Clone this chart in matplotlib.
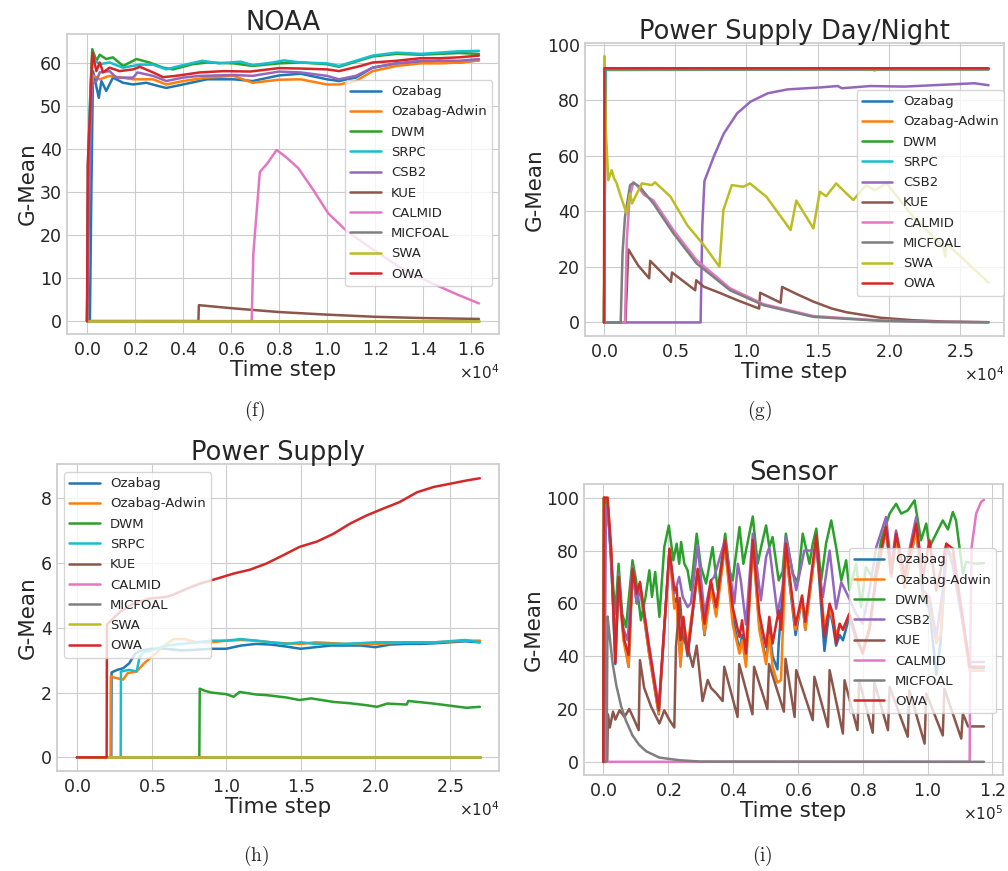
import numpy as np
import matplotlib
matplotlib.use('Agg')
import matplotlib.pyplot as plt
import seaborn as sns

# ---------------- data (time step, G-Mean) ----------------

# (f) NOAA
noaa_ozabag = [(0, 0), (120, 0), (180, 30), (250, 58), (490, 51.8), (600, 55.7), (800, 53.4), (1080, 56.5),
               (1500, 55.3), (1920, 54.9), (2470, 55.3), (3000, 54.5), (3300, 54.1), (4000, 54.9), (5000, 56.1),
               (6100, 56.1), (6900, 55.7), (8000, 57), (8900, 57.4), (10000, 56.1), (10500, 55.7), (11200, 56.5),
               (11900, 58.8), (12900, 59.8), (13900, 60), (14700, 60.4), (15500, 60), (16330, 60.5)]
noaa_adwin = [(0, 0), (60, 37), (150, 50), (250, 57), (530, 56.1), (940, 56.9), (1920, 56.1), (2750, 56.1),
              (3300, 54.9), (4000, 55.7), (5000, 56.5), (6100, 56.9), (6900, 55.3), (8000, 56), (8900, 56.1),
              (10000, 54.9), (10500, 54.9), (11200, 55.7), (11900, 58), (12900, 59.2), (13900, 59.8),
              (14700, 59.8), (15500, 60), (16330, 60.5)]
noaa_dwm = [(0, 0), (60, 37), (150, 55), (220, 63.1), (390, 60.4), (530, 61.8), (800, 60.8), (1080, 61.2),
            (1500, 59.2), (2060, 60.8), (2600, 60), (3170, 58.8), (3580, 58.4), (4400, 59.6), (5000, 60),
            (6100, 59.8), (6900, 59.2), (8000, 59.8), (8900, 60), (10000, 59.6), (10500, 59), (11200, 60.2),
            (11900, 61.4), (12900, 62), (13900, 61.8), (14700, 62), (15500, 62.2), (16330, 62)]
noaa_srpc = [(0, 0), (40, 37), (150, 55), (250, 60.8), (530, 59.6), (940, 60), (1500, 58.8), (2200, 59.5),
             (2750, 59.5), (3300, 58.4), (3700, 59), (4800, 60.4), (5500, 59.8), (6400, 60.2), (6900, 59.4),
             (7750, 60), (8200, 60.5), (8900, 60), (10000, 59.8), (10500, 59.2), (11200, 60.4), (11900, 61.6),
             (12900, 62.3), (13900, 62), (14700, 62.3), (15500, 62.6), (16330, 62.7)]
noaa_csb2 = [(0, 0), (80, 25), (200, 55), (390, 55.7), (530, 57.7), (940, 58), (1220, 56.5), (1920, 56.5),
             (2100, 57.7), (2750, 56.9), (3300, 55.7), (4000, 56.5), (4700, 56.9), (6100, 57.1), (6900, 56.9),
             (8000, 57.9), (8900, 57.7), (10000, 56.9), (10500, 56.1), (11200, 56.9), (11900, 58.8),
             (12900, 59.8), (13900, 60.4), (14700, 60.4), (15500, 60.4), (16330, 60.8)]
noaa_kue = [(0, 0), (4640, 0), (4660, 3.7), (6000, 3.0), (8000, 2.1), (10000, 1.5), (12000, 1.0),
            (14000, 0.7), (16330, 0.5)]
noaa_calmid = [(0, 0), (6860, 0), (6930, 15.7), (7200, 34.6), (7500, 36.5), (7900, 39.7), (8300, 38),
               (8800, 35.5), (9430, 30.4), (10050, 25), (10800, 21), (11650, 17.6), (13000, 12.6),
               (14400, 8.7), (15500, 6), (16330, 4.1)]
noaa_micfoal = [(0, 0), (16330, 0)]
noaa_swa = [(0, 0), (16330, 0)]
noaa_owa = [(0, 0), (30, 36), (150, 52), (220, 62.3), (390, 58), (530, 60), (670, 57.7), (940, 58.8),
            (1360, 58), (1920, 58.4), (2200, 59), (2750, 57.7), (3170, 56.6), (3700, 56.9), (4700, 57.7),
            (5700, 58), (6800, 57.9), (8000, 58.7), (8900, 58.6), (10000, 58.4), (10500, 58), (11400, 59.2),
            (11900, 60), (12900, 60.4), (13900, 61), (14700, 61), (15500, 61.2), (16330, 61.6)]

# (g) Power Supply Day/Night
psdn_ozabag = [(0, 0), (100, 91), (27000, 91.2)]
psdn_adwin = [(0, 0), (100, 91.2), (18800, 91.2), (19000, 90.8), (19200, 91.2), (27000, 91.2)]
psdn_dwm = [(0, 0), (100, 91.4), (27000, 91.4)]
psdn_srpc = [(0, 0), (100, 91.3), (27000, 91.3)]
psdn_csb2 = [(0, 0), (6780, 0), (6900, 35), (7050, 51), (7700, 59.7), (8400, 68), (9350, 75.4),
             (10300, 79.6), (11500, 82.6), (12900, 84), (15200, 84.7), (16400, 85.2), (16700, 84.4),
             (18700, 85.2), (21100, 85), (26000, 86.2), (27000, 85.5)]
psdn_kue = [(0, 0), (1500, 0), (1710, 26.3), (2400, 20.5), (3170, 15.9), (3240, 22.2), (4700, 14.6),
            (4770, 18.0), (6400, 11.6), (6470, 15.2), (7000, 12.9), (8200, 10.5), (9360, 8.0), (10890, 5.0),
            (10960, 10.7), (12400, 7.1), (12500, 12.8), (13500, 10.3), (14700, 7.5), (16000, 5),
            (17000, 3.7), (19400, 1.7), (21700, 0.8), (24000, 0.3), (27000, 0.1)]
psdn_calmid = [(0, 0), (1470, 0), (1600, 30), (1800, 45), (2060, 50.5), (2300, 49.5), (2800, 46),
               (3460, 44), (4870, 33.3), (6490, 22.5), (8850, 12.3), (11200, 6.6), (14700, 2.3),
               (19400, 0.7), (23000, 0.2), (27000, 0.05)]
psdn_micfoal = [(0, 0), (1170, 0), (1300, 25), (1470, 38), (1830, 49.5), (2060, 50.3), (2500, 48.9),
                (3460, 42.9), (4870, 32.1), (6490, 21.3), (8850, 11.6), (11200, 6.2), (14700, 2.0),
                (19400, 0.6), (23000, 0.2), (27000, 0.05)]
psdn_swa = [(0, 0), (30, 96), (120, 70), (300, 51.3), (540, 54.9), (700, 52), (890, 50.1), (1200, 45),
            (1590, 39.3), (1830, 46.5), (1970, 42.9), (2650, 50.1), (3350, 49.5), (3580, 50.5), (4670, 45.3),
            (5850, 35), (7000, 27.9), (8100, 20.1), (8380, 40.5), (8970, 49.5), (9780, 48.9), (10250, 50.1),
            (11400, 45.3), (13100, 33.3), (13500, 43.9), (14700, 33.9), (15150, 47.1), (15600, 45.5),
            (16300, 50.1), (17500, 44.1), (18400, 49.5), (19000, 47.7), (19850, 50.1), (21700, 38.1),
            (23800, 27.3), (23970, 23.7), (24050, 28.5), (27000, 14.3)]
psdn_owa = [(0, 0), (30, 91.6), (27000, 91.6)]

# (h) Power Supply
ps_ozabag = [(0, 0), (2300, 0), (2320, 2.62), (2700, 2.7), (3100, 2.75), (3500, 2.9), (3900, 3.2),
             (4300, 3.3), (5000, 3.35), (6000, 3.35), (7000, 3.3), (8000, 3.32), (9000, 3.35), (10000, 3.35),
             (11000, 3.45), (12000, 3.5), (13000, 3.48), (14000, 3.42), (15000, 3.35), (16000, 3.4),
             (17000, 3.45), (18000, 3.45), (19000, 3.45), (20000, 3.4), (21000, 3.48), (22000, 3.5),
             (23000, 3.5), (24000, 3.52), (25000, 3.55), (26000, 3.58), (27000, 3.55)]
ps_adwin = [(0, 0), (2250, 0), (2270, 2.5), (2600, 2.45), (3100, 2.4), (3400, 2.6), (4000, 2.65),
            (4500, 2.9), (5000, 3.1), (5500, 3.3), (6000, 3.5), (6500, 3.65), (7200, 3.65), (8000, 3.55),
            (9000, 3.55), (10000, 3.6), (11000, 3.62), (12000, 3.6), (13000, 3.55), (14000, 3.52),
            (15000, 3.5), (16000, 3.55), (18000, 3.5), (20000, 3.5), (22000, 3.55), (24000, 3.55),
            (26000, 3.6), (27000, 3.6)]
ps_dwm = [(0, 0), (8200, 0), (8230, 2.12), (8600, 2.05), (9000, 2.0), (10000, 1.95), (10500, 1.87),
          (10900, 2.02), (12000, 1.94), (12700, 1.92), (14000, 1.85), (14900, 1.77), (15700, 1.82),
          (17200, 1.71), (18300, 1.67), (19400, 1.61), (20100, 1.56), (20800, 1.66), (22100, 1.63),
          (22200, 1.74), (23900, 1.66), (26100, 1.53), (27000, 1.56)]
ps_srpc = [(0, 0), (2930, 0), (2950, 2.65), (3500, 2.7), (4000, 2.65), (4200, 3.1), (4500, 3.25),
           (5000, 3.3), (6000, 3.45), (7000, 3.5), (8000, 3.55), (9000, 3.6), (10000, 3.6), (11000, 3.65),
           (12000, 3.6), (13000, 3.55), (14000, 3.5), (15000, 3.55), (16000, 3.5), (18000, 3.5),
           (20000, 3.55), (22000, 3.55), (24000, 3.55), (26000, 3.62), (27000, 3.55)]
ps_kue = [(0, 0), (27000, 0)]
ps_calmid = [(0, 0), (27000, 0)]
ps_micfoal = [(0, 0), (27000, 0)]
ps_swa = [(0, 0), (27000, 0)]
ps_owa = [(0, 0), (1990, 0), (2010, 4.1), (2880, 4.49), (3780, 4.74), (4900, 4.9), (6000, 4.95),
          (6460, 5.02), (7350, 5.2), (8240, 5.36), (9360, 5.51), (10500, 5.67), (11600, 5.79),
          (12700, 5.98), (13800, 6.23), (14900, 6.49), (16100, 6.66), (17200, 6.9), (18300, 7.21),
          (19400, 7.46), (20500, 7.67), (21600, 7.87), (22800, 8.18), (23900, 8.34), (25000, 8.44),
          (26100, 8.54), (27000, 8.61)]

# (i) Sensor
sen_ozabag = [(0, 0), (300, 100), (1300, 98), (2400, 78), (3700, 37), (4700, 68), (6200, 48), (7800, 36),
              (9000, 72), (10300, 60), (11300, 66), (14000, 42), (17100, 18), (20400, 80), (21900, 60),
              (22600, 62), (23800, 38), (24700, 50), (26000, 40), (29100, 72), (31200, 48), (33200, 66),
              (34800, 56), (37500, 82), (39900, 55), (42000, 42), (42800, 48), (44000, 38), (46100, 83),
              (48100, 52), (50200, 38), (51200, 50), (52200, 40), (53700, 35), (54100, 45), (56300, 80),
              (59300, 48), (61300, 62), (62300, 50), (65700, 84), (68200, 42), (69800, 58), (70800, 52),
              (71800, 44), (72900, 48), (73900, 46), (75900, 55), (78000, 46), (80000, 42), (82100, 50),
              (84200, 70), (87200, 88), (88800, 70), (90300, 85), (92900, 66), (96500, 88), (98600, 62),
              (100600, 58), (102700, 33), (104000, 45), (105800, 80), (107800, 78), (113000, 35.5),
              (117400, 35.5)]
sen_adwin = [(0, 0), (100, 100), (1300, 100), (2400, 80), (3700, 40), (4700, 69), (6200, 46), (7800, 36),
             (9000, 72), (10300, 62), (11300, 67), (14000, 42), (17100, 18.3), (20400, 80), (21900, 58),
             (22600, 60), (23800, 36), (24700, 52), (26000, 44), (29100, 72), (31200, 48.5), (33200, 66),
             (34800, 55), (37500, 82), (39900, 52), (42000, 41), (42800, 46), (44000, 36), (46100, 83),
             (48100, 50), (50200, 37), (51200, 48), (52200, 36), (53700, 30), (54800, 31), (56300, 80),
             (59300, 50), (61300, 62), (62300, 50), (65700, 84), (68200, 51), (69800, 58), (70800, 54),
             (71800, 48), (72900, 52), (73900, 50), (75900, 56), (78000, 47), (80000, 42), (82100, 50),
             (84200, 70), (87200, 88), (88800, 70), (90300, 85), (92900, 66), (96500, 88), (98600, 64),
             (100600, 60), (102700, 45), (104000, 48), (105800, 80), (107800, 78), (113000, 34.5),
             (117400, 34.5)]
sen_dwm = [(0, 0), (200, 100), (1300, 97), (2900, 68.7), (3700, 56), (4700, 75), (5800, 56.1), (7000, 51),
           (9000, 76.3), (10100, 68.7), (11600, 53.6), (13000, 62.4), (14200, 72.5), (15000, 62.4),
           (16000, 71.9), (17300, 54.9), (18800, 81.3), (20200, 89.5), (21600, 76.3), (22600, 82.6),
           (23400, 75), (24000, 83.2), (25000, 75), (26000, 72.5), (27000, 65), (28800, 86.4), (30100, 73.8),
           (31700, 67.5), (33700, 81.3), (35300, 65), (37600, 86.4), (38900, 72.5), (39900, 68.7),
           (42000, 88.9), (43200, 75), (46100, 92.9), (47600, 75), (48900, 82.6), (50200, 89.5),
           (51200, 81.3), (52200, 85.1), (54100, 68.7), (55300, 72), (56300, 86.4), (58400, 71.2),
           (60000, 68), (61500, 86.4), (63600, 75), (64600, 82.6), (65700, 88.3), (67200, 68.7),
           (68700, 82.6), (70300, 91.4), (71800, 81.3), (73400, 68.7), (74900, 76.3), (75900, 65),
           (78000, 75), (79500, 58.6), (81000, 73.8), (83600, 68.7), (85700, 83.9), (88300, 94),
           (90300, 97.7), (91900, 94), (93900, 95.2), (96000, 99), (98000, 83.9), (99600, 90.2),
           (100600, 81.3), (104700, 91.4), (106300, 88), (107800, 94.6), (108800, 91.4), (110900, 71.2),
           (111900, 75.7), (115000, 75), (117400, 75.3)]
sen_csb2 = [(0, 0), (300, 0), (800, 96.5), (1400, 96.6), (2400, 75), (3700, 43.5), (4700, 71.2), (6000, 51),
            (7500, 46), (9000, 73.8), (10300, 60), (11300, 67.5), (14000, 45), (17100, 20.8), (20400, 79.4),
            (21900, 63.7), (23400, 70), (24500, 62.4), (26000, 58.6), (27000, 60), (29100, 82),
            (31200, 56.1), (33200, 68.7), (34200, 70), (37500, 83.9), (40400, 60), (41500, 75),
            (42400, 68.7), (44000, 52), (46100, 86.4), (48600, 61.2), (50200, 77.6), (51200, 81.3),
            (52200, 71.2), (53700, 56.1), (55300, 66), (56300, 85.1), (59500, 65), (62000, 80),
            (65700, 80), (67700, 62.4), (69800, 80), (71800, 58), (73400, 68), (75400, 63), (78000, 56),
            (80000, 52.3), (82100, 65), (84200, 81.3), (87200, 92.7), (88800, 73.8), (90300, 87.6),
            (92900, 71.2), (96500, 92.7), (98600, 65), (100600, 62.4), (102700, 47.3), (104700, 65),
            (105800, 82.6), (107800, 74), (113000, 37.8), (117400, 37.8)]
sen_kue = [(0, 0), (1200, 0), (1400, 18), (2000, 13), (3000, 19), (3700, 16), (5000, 19.5), (6500, 17),
           (8000, 20), (9500, 16), (10900, 12), (11300, 38.5), (12600, 28), (14700, 21), (17300, 14.5),
           (18800, 19.5), (20400, 15.8), (21900, 13), (22400, 43.5), (23600, 62), (24500, 47), (26000, 43.5),
           (27600, 36), (28800, 44), (30600, 23), (32200, 31), (33200, 28), (34800, 26), (36800, 23),
           (37300, 36), (41400, 17), (41900, 37), (46000, 18), (46500, 36), (50600, 20), (51100, 37),
           (55700, 19), (56200, 39), (59000, 17), (59500, 34.7), (64600, 15.8), (65100, 32.2),
           (69300, 13.2), (69800, 34.7), (73900, 10.7), (74400, 30.9), (78400, 12), (78900, 30.9),
           (83100, 11), (83600, 30), (87800, 12), (88300, 28.4), (93900, 9.5), (94400, 27), (99100, 6.9),
           (99600, 25.9), (104700, 10), (105200, 27.7), (110400, 8.8), (110900, 18.3), (112500, 13.4),
           (117400, 13.4)]
sen_calmid = [(0, 0), (113000, 0), (113200, 43.5), (113600, 81.3), (115000, 94), (116500, 98.4),
              (117400, 99.2)]
sen_micfoal = [(0, 0), (1000, 0), (1300, 55), (2000, 47), (2900, 37), (4000, 29), (5500, 21), (7000, 15.5),
               (9000, 10), (11000, 6.5), (13200, 4), (17300, 1.6), (23400, 0.6), (30000, 0.1), (117400, 0)]
sen_owa = [(0, 0), (200, 100), (1300, 100), (2400, 81), (3700, 37.5), (4700, 70), (5800, 53.6), (6500, 46),
           (7800, 40.4), (9000, 73.1), (10300, 63.7), (11300, 68.1), (14000, 44), (17100, 19.5),
           (20400, 80.7), (21900, 65), (22600, 66), (23800, 46), (24700, 54.9), (26000, 41), (29100, 73.1),
           (31200, 52.3), (33200, 68.7), (34800, 58.6), (37500, 83.9), (39900, 58.6), (42000, 47.3),
           (42800, 53.6), (44000, 41), (46100, 84), (48100, 56.1), (50200, 43.5), (51200, 54.9),
           (52200, 44.8), (54100, 57.4), (54800, 50), (56300, 82.6), (59300, 51.8), (61300, 63),
           (62300, 53), (65700, 85.8), (68200, 47.3), (69800, 59.9), (70800, 56.1), (71800, 44.8),
           (72900, 52.3), (73900, 50), (75900, 56.1), (78000, 47.3), (80000, 41), (82100, 51),
           (84200, 71.2), (87200, 88.9), (88800, 71.2), (90300, 86.4), (92900, 70), (96500, 90.2),
           (98600, 70), (100600, 83.9), (102700, 64.9), (105800, 82.6), (107800, 80.7), (113000, 36),
           (117400, 36)]

COLORS = {'Ozabag': '#1f77b4', 'Ozabag-Adwin': '#ff7f0e', 'DWM': '#2ca02c', 'SRPC': '#17becf',
          'CSB2': '#9467bd', 'KUE': '#8c564b', 'CALMID': '#e377c2', 'MICFOAL': '#7f7f7f',
          'SWA': '#bcbd22', 'OWA': '#d62728'}

# ---------------- style ----------------
sns.set_style('whitegrid')
plt.rcParams['font.family'] = ['DejaVu Sans']
plt.rcParams['axes.edgecolor'] = '0.8'
plt.rcParams['axes.linewidth'] = 1.25

fig = plt.figure(figsize=(10.08, 8.71), dpi=100)


def panel(rect, series, title, xlim, ylim, xticks, yticks, legend_loc, legend_anchor):
    ax = fig.add_axes(rect)
    for name, pts in series:
        t, v = zip(*pts)
        ax.plot(t, v, color=COLORS[name], lw=1.8, label=name)
    ax.set_xlim(*xlim)
    ax.set_ylim(*ylim)
    ax.set_xticks(xticks)
    ax.set_yticks(yticks)
    ax.ticklabel_format(style='sci', axis='x', scilimits=(0, 0), useMathText=True)
    ax.xaxis.get_offset_text().set_fontsize(11)
    ax.tick_params(axis='both', labelsize=12.5, length=0, colors='0.15')
    ax.tick_params(axis='x', pad=5)
    ax.tick_params(axis='y', pad=3.5)
    ax.set_title(title, fontsize=18.5, pad=3, color='0.15')
    ax.set_xlabel('Time step', fontsize=15.5, labelpad=1, color='0.15')
    ax.set_ylabel('G-Mean', fontsize=15.5, labelpad=2, color='0.15')
    ax.legend(loc=legend_loc, bbox_to_anchor=legend_anchor, borderaxespad=0, fontsize=9.5,
              labelspacing=0.55, handlelength=2.3, handletextpad=0.8, framealpha=0.8)
    return ax


panel([0.0665, 0.6165, 0.4286, 0.3444],
      [('Ozabag', noaa_ozabag), ('Ozabag-Adwin', noaa_adwin), ('DWM', noaa_dwm), ('SRPC', noaa_srpc),
       ('CSB2', noaa_csb2), ('KUE', noaa_kue), ('CALMID', noaa_calmid), ('MICFOAL', noaa_micfoal),
       ('SWA', noaa_swa), ('OWA', noaa_owa)],
      'NOAA', (-833, 17167), (-3.0, 66.6), np.arange(0, 16001, 2000), np.arange(0, 61, 10),
      'upper right', (0.984, 0.847))

panel([0.5804, 0.6142, 0.4157, 0.3364],
      [('Ozabag', psdn_ozabag), ('Ozabag-Adwin', psdn_adwin), ('DWM', psdn_dwm), ('SRPC', psdn_srpc),
       ('CSB2', psdn_csb2), ('KUE', psdn_kue), ('CALMID', psdn_calmid), ('MICFOAL', psdn_micfoal),
       ('SWA', psdn_swa), ('OWA', psdn_owa)],
      'Power Supply Day/Night', (-1334, 28090), (-4.9, 100.7), np.arange(0, 25001, 5000),
      np.arange(0, 101, 20), 'upper right', (1.0, 0.84))

panel([0.0565, 0.1148, 0.4385, 0.3525],
      [('Ozabag', ps_ozabag), ('Ozabag-Adwin', ps_adwin), ('DWM', ps_dwm), ('SRPC', ps_srpc),
       ('KUE', ps_kue), ('CALMID', ps_calmid), ('MICFOAL', ps_micfoal), ('SWA', ps_swa), ('OWA', ps_owa)],
      'Power Supply', (-1340, 28280), (-0.42, 9.05), np.arange(0, 25001, 5000), np.arange(0, 9, 2),
      'upper left', (0.016, 0.974))

panel([0.5794, 0.1102, 0.4157, 0.3341],
      [('Ozabag', sen_ozabag), ('Ozabag-Adwin', sen_adwin), ('DWM', sen_dwm), ('CSB2', sen_csb2),
       ('KUE', sen_kue), ('CALMID', sen_calmid), ('MICFOAL', sen_micfoal), ('OWA', sen_owa)],
      'Sensor', (-5950, 123300), (-5.0, 105.2), np.arange(0, 120001, 20000), np.arange(0, 101, 20),
      'upper right', (0.983, 0.78))

# sub-figure captions
for label, x, y in [('(f)', 255, 411), ('(g)', 760, 411), ('(h)', 256, 856), ('(i)', 762, 856)]:
    fig.text(x / 1008, 1 - y / 871, r'$\mathrm{' + label + '}$', math_fontfamily='cm',
             fontsize=14, ha='center', va='center', color='0.15')

fig.savefig('out.png', dpi=100, facecolor='white')
